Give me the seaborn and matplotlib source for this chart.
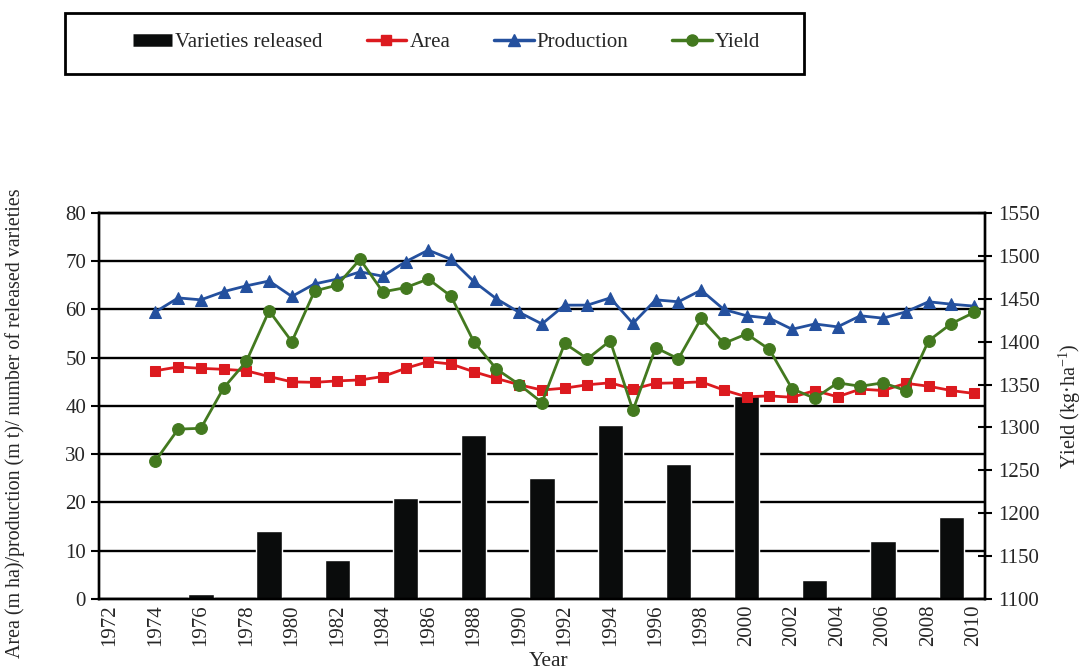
import numpy as np
import pandas as pd
import matplotlib
matplotlib.use("Agg")
import matplotlib.pyplot as plt
from matplotlib.lines import Line2D
from matplotlib.patches import Rectangle
from matplotlib.ticker import MultipleLocator
import seaborn as sns


# Data

years = list(range(1974, 2011))

area = [47.3, 48.1, 47.8, 47.6, 47.3, 46.1, 45.0, 44.9, 45.2, 45.4,
        46.1, 47.8, 49.2, 48.7, 47.1, 45.7, 44.4, 43.3, 43.7, 44.4,
        44.8, 43.5, 44.7, 44.8, 45.0, 43.3, 41.9, 42.1, 41.8, 43.2,
        41.9, 43.5, 43.2, 44.7, 44.1, 43.2, 42.6]

production = [59.5, 62.4, 62.0, 63.7, 64.9, 65.9, 62.7, 65.3, 66.3, 67.8,
              66.9, 69.9, 72.3, 70.4, 65.8, 62.2, 59.4, 57.0, 60.9, 60.9,
              62.4, 57.1, 62.0, 61.6, 64.0, 60.0, 58.7, 58.2, 55.9, 57.0,
              56.4, 58.7, 58.2, 59.5, 61.6, 61.1, 60.7]

yield_kg = [1261, 1298, 1299, 1346, 1377, 1436, 1400, 1459, 1466, 1496,
            1458, 1463, 1473, 1453, 1400, 1368, 1350, 1329, 1398, 1380,
            1401, 1320, 1393, 1380, 1427, 1398, 1409, 1391, 1345, 1334,
            1352, 1348, 1352, 1343, 1401, 1421, 1434]

release_years = [1976, 1979, 1982, 1985, 1988, 1991, 1994, 1997, 2000, 2003, 2006, 2009]
varieties = [1, 14, 8, 21, 34, 25, 36, 28, 42, 4, 12, 17]

tick_years = list(range(1972, 2011, 2))

df_lines = pd.DataFrame({"year": years, "area": area,
                         "production": production, "yield": yield_kg})
df_bars = pd.DataFrame({"year": release_years, "varieties": varieties})

RED = "#DC1A1F"
BLUE = "#24509E"
GREEN = "#43791F"
BLACK = "#0A0C0C"


# Style

sns.set_style("white")
plt.rcParams["font.family"] = ["Liberation Serif", "DejaVu Serif"]
plt.rcParams["mathtext.fontset"] = "custom"
plt.rcParams["mathtext.rm"] = "Liberation Serif"
plt.rcParams["font.size"] = 15

fig = plt.figure(figsize=(10.82, 6.71), dpi=100)
ax = fig.add_axes([0.0911, 0.1073, 0.8196, 0.5753])
ax2 = ax.twinx()

# Bars: varieties released
sns.barplot(data=df_bars, x="year", y="varieties", ax=ax, native_scale=True,
            color=BLACK, saturation=1, width=0.37, errorbar=None, zorder=2)

# Lines on the left axis
sns.lineplot(data=df_lines, x="year", y="area", ax=ax, color=RED, lw=2,
             marker="s", markersize=7.5, markeredgecolor=RED, zorder=3)
sns.lineplot(data=df_lines, x="year", y="production", ax=ax, color=BLUE, lw=2,
             marker="^", markersize=8.5, markeredgecolor=BLUE, zorder=3)

# Yield on the right axis
sns.lineplot(data=df_lines, x="year", y="yield", ax=ax2, color=GREEN, lw=2,
             marker="o", markersize=8.5, markeredgecolor=GREEN, zorder=3)

# Axes setup
ax.set_xlim(1971.5, 2010.5)
ax.set_ylim(0, 80)
ax2.set_ylim(1100, 1550)
ax.yaxis.set_major_locator(MultipleLocator(10))
ax2.yaxis.set_major_locator(MultipleLocator(50))

ax.set_xticks(tick_years)
ax.set_xticklabels([str(y) for y in tick_years], rotation=90)
ax.set_xticks(np.arange(1971.5, 2011, 1.0), minor=True)
ax.tick_params(axis="x", which="major", length=0, pad=4, labelsize=15)
ax.tick_params(axis="x", which="minor", direction="out", length=6, width=1.5, color="black")
ax.tick_params(axis="y", direction="out", length=6, width=1.5, color="black",
               left=True, labelsize=15, pad=3)
ax2.tick_params(axis="y", direction="inout", length=10, width=1.5, color="black",
                right=True, labelsize=15, pad=4)

ax.yaxis.grid(True, color="black", lw=1.7)
ax.set_axisbelow(True)

for a in (ax, ax2):
    for side in ("left", "right", "bottom", "top"):
        a.spines[side].set_color("black")
        a.spines[side].set_linewidth(1.7)
        a.spines[side].set_visible(True)

ax.set_xlabel("Year", fontsize=15.5)
ax.set_ylabel("Area (m ha)/production (m t)/ number of released varieties", fontsize=14.4)
ax2.set_ylabel(r"Yield (kg·ha$^{-1}$)", fontsize=14.5)
ax.xaxis.set_label_coords(0.507, -0.137)
ax.yaxis.set_label_coords(-0.083, 0.455)
ax2.yaxis.set_label_coords(1.080, 0.5)

# Legend at the top: entries without frame, plus a separate box like the reference
handles = [
    Line2D([0], [0], color=BLACK, lw=9, solid_capstyle="butt"),
    Line2D([0], [0], color=RED, lw=2.5, marker="s", markersize=7.5),
    Line2D([0], [0], color=BLUE, lw=2.5, marker="^", markersize=8.5),
    Line2D([0], [0], color=GREEN, lw=2.5, marker="o", markersize=8),
]
labels = ["Varieties released", "Area", "Production", "Yield"]
fig.legend(handles, labels, loc="center", bbox_to_anchor=(0.4127, 0.9374),
           ncol=4, frameon=False, fontsize=15,
           handlelength=1.9, handletextpad=0.15, columnspacing=2.1,
           borderpad=0, borderaxespad=0)
fig.patches.append(Rectangle((0.0601, 0.8897), 0.683, 0.0909, transform=fig.transFigure,
                             fill=False, edgecolor="black", lw=2))

fig.savefig("out.png", dpi=100)
